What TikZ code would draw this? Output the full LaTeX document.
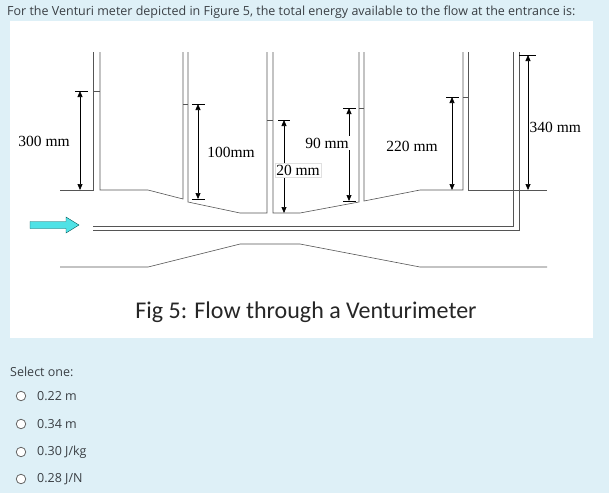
\documentclass[tikz,border=0pt]{standalone}
\usepackage{fontspec}
\setmainfont{Liberation Serif}
\newfontfamily\uifont{Open Sans}
\newfontfamily\capfont{Carlito}
\usetikzlibrary{arrows.meta}
\definecolor{panel}{HTML}{DEF0F7}
\definecolor{txt}{HTML}{3A3F44}
\definecolor{wall}{HTML}{555555}
\definecolor{flowc}{HTML}{4FE2E6}
\tikzset{
  wallline/.style={draw=wall, line width=0.6pt},
  dimline/.style={draw=black, line width=0.7pt, {Triangle[length=6pt,width=5pt]}-{Triangle[length=6pt,width=5pt]}},
  capline/.style={draw=black, line width=0.5pt},
  dimlabel/.style={font=\fontsize{15.5}{17}\selectfont, inner sep=1pt},
  boxlabel/.style={dimlabel, fill=white, draw=black!12, inner sep=1.5pt},
  opt/.style={font=\uifont\fontsize{12.5}{14}\selectfont, text=txt, anchor=west, inner sep=0pt},
  radio/.style={circle, draw=black!60, fill=white, line width=0.8pt, minimum size=9.5pt, inner sep=0pt}
}
\begin{document}
\begin{tikzpicture}[x=1pt,y=-1pt]
\useasboundingbox (0,0) rectangle (609,493);
\fill[panel] (0,0) rectangle (609,493);
\fill[white] (10,21) rectangle (593,338);
\node[font=\uifont\fontsize{12.5}{14}\selectfont, text=txt, anchor=west, inner sep=0pt] (title) at (7,12) {For the Venturi meter depicted in Figure 5, the total energy available to the flow at the entrance is:};
% top wall
\draw[wallline] (60,190) -- (93,190) -- (93,52);
\draw[wallline] (100,52) -- (100,190) -- (148,190) -- (183,199) -- (183,52);
\draw[wallline] (188,52) -- (188,202) -- (240,213) -- (267,213) -- (267,52);
\draw[wallline] (273,52) -- (273,213) -- (300,213) -- (359,202) -- (359,52);
\draw[wallline] (364,52) -- (364,201) -- (420,190) -- (463,190) -- (463,52);
\draw[wallline] (468,52) -- (468,190) -- (547,190);
% pitot
\draw[wallline] (93,226) -- (513,226) -- (513,52);
\draw[wallline] (93,230) -- (519,230) -- (519,52);
% bottom wall
\draw[wallline] (60,267) -- (148,267) -- (240,244) -- (300,244) -- (420,267) -- (547,267);
% level ticks
\draw[wallline] (93,91) -- (100,91);
\draw[wallline] (183,104) -- (188,104);
\draw[wallline] (267,120) -- (273,120);
\draw[wallline] (359,108) -- (364,108);
\draw[wallline] (463,97) -- (468,97);
% dimensions
\coordinate (a1) at (80,91); \coordinate (b1) at (80,190);
\draw[capline] (75,91) -- (88,91);
\draw[dimline] (a1) -- (b1);
\node[dimlabel] (l1) at (44,141) {300 mm};
\coordinate (a2) at (198,104); \coordinate (b2) at (198,199);
\draw[capline] (192,104) -- (205,104); \draw[capline] (192,199) -- (205,199);
\draw[dimline] (a2) -- (b2);
\node[dimlabel] (l2) at (231,152) {100mm};
\coordinate (a3) at (284,120); \coordinate (b3) at (284,213);
\draw[capline] (278,120) -- (290,120);
\draw[dimline] (a3) -- (b3);
\node[boxlabel] (l3) at (298,170) {20 mm};
\coordinate (a4) at (349,108); \coordinate (b4) at (349,201);
\draw[capline] (343,108) -- (356,108); \draw[capline] (343,201) -- (356,201);
\draw[dimline] (a4) -- (b4);
\node[boxlabel, draw=none] (l4) at (327,143) {90 mm};
\coordinate (a5) at (452,97); \coordinate (b5) at (452,190);
\draw[capline] (446,97) -- (459,97);
\draw[dimline] (a5) -- (b5);
\node[dimlabel] (l5) at (412,146) {220 mm};
\coordinate (a6) at (528,55); \coordinate (b6) at (528,190);
\draw[capline] (519,55) -- (536,55);
\draw[dimline] (a6) -- (b6);
\node[dimlabel, fill=white, anchor=west, inner sep=0.5pt] (l6) at (529,127) {340 mm};
% flow arrow
\draw[fill=flowc, draw=teal!70!black, line width=0.4pt]
  (30,221.5) -- (66,221.5) -- (66,217) -- (79,225) -- (66,233) -- (66,228.5) -- (30,228.5) -- cycle;
\node[font=\capfont\fontsize{24}{28}\selectfont, text=black!85] (cap) at (306,312) {Fig 5: Flow through a Venturimeter};
% options
\node[opt] (sel) at (10,372) {Select one:};
\node[radio] (r1) at (21,396) {}; \node[opt] (o1) at (37,396) {0.22 m};
\node[radio] (r2) at (21,424) {}; \node[opt] (o2) at (37,424) {0.34 m};
\node[radio] (r3) at (21,452) {}; \node[opt] (o3) at (37,452) {0.30 J/kg};
\node[radio] (r4) at (21,479) {}; \node[opt] (o4) at (37,479) {0.28 J/N};
\end{tikzpicture}
\end{document}
